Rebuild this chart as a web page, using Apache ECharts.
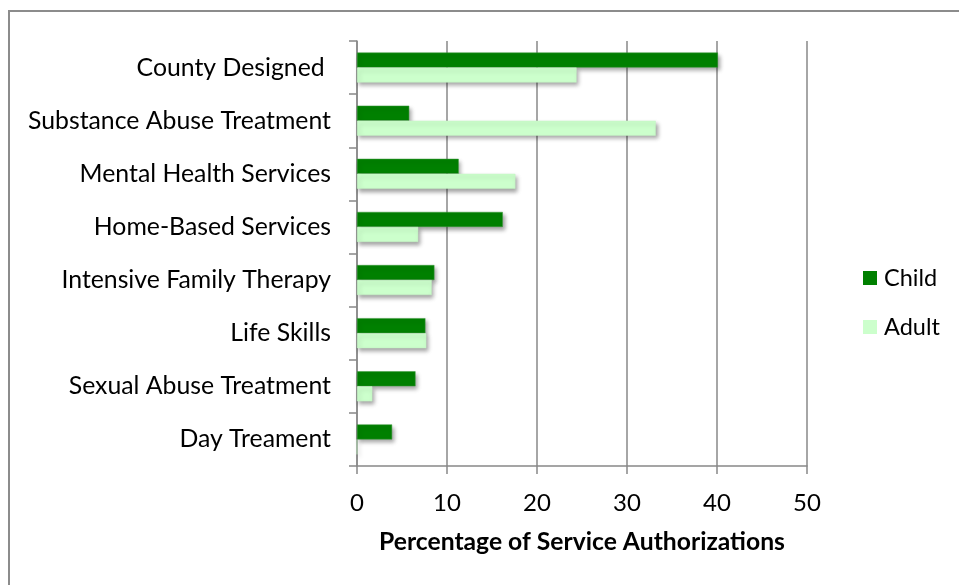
<!DOCTYPE html>
<html>
<head>
<meta charset="utf-8">
<script src="https://cdn.jsdelivr.net/npm/echarts@6/dist/echarts.min.js"></script>
<style>
html,body{margin:0;padding:0;background:#fff;}
#chart{width:959px;height:585px;}
</style>
</head>
<body>
<div id="chart"></div>
<script>
var categories = ["County Designed ", "Substance Abuse Treatment", "Mental Health Services", "Home-Based Services", "Intensive Family Therapy", "Life Skills", "Sexual Abuse Treatment", "Day Treament"];
var childValues = [40.1, 5.8, 11.3, 16.2, 8.6, 7.6, 6.5, 3.9];
var adultValues = [24.4, 33.2, 17.6, 6.8, 8.3, 7.7, 1.7, 0];
var xTicks = {min: 0, max: 50, interval: 10};
var seriesNames = ["Child", "Adult"];
var xTitle = "Percentage of Service Authorizations";

var FONT = "Lato";
var chart = echarts.init(document.getElementById('chart'), null, {renderer: 'canvas'});
var shadow = {shadowBlur: 4, shadowOffsetX: 2, shadowOffsetY: 3, shadowColor: 'rgba(0,0,0,0.35)'};
chart.setOption({
  animation: false,
  backgroundColor: '#fff',
  graphic: [{
    type: 'rect', shape: {x: 9, y: 11, width: 1000, height: 1000},
    style: {fill: 'none', stroke: '#8c8c8c', lineWidth: 2}, silent: true
  }],
  grid: {left: 357, right: 152, top: 41, bottom: 119, containLabel: false},
  legend: {
    orient: 'vertical', left: 858, top: 261, itemWidth: 14, itemHeight: 14, itemGap: 25,
    icon: 'rect',
    itemStyle: {borderWidth: 0, shadowBlur: 0, shadowOffsetX: 0, shadowOffsetY: 0},
    textStyle: {fontFamily: FONT, fontSize: 23.5, color: '#000', padding: [0, 0, 0, 2]},
    data: seriesNames
  },
  xAxis: {
    type: 'value', min: xTicks.min, max: xTicks.max, interval: xTicks.interval,
    axisLine: {show: true, lineStyle: {color: '#888', width: 1.5}},
    axisTick: {show: true, length: 8, lineStyle: {color: '#888', width: 1.5}},
    splitLine: {show: true, lineStyle: {color: '#888', width: 1.5}},
    axisLabel: {fontFamily: FONT, fontSize: 24, color: '#000', margin: 25},
    name: xTitle, nameLocation: 'middle', nameGap: 64,
    nameTextStyle: {fontFamily: FONT, fontSize: 24.7, fontWeight: 'bold', color: '#000'}
  },
  yAxis: {
    type: 'category', data: categories, inverse: true,
    axisLine: {show: true, lineStyle: {color: '#888', width: 1.5}},
    axisTick: {show: true, length: 8, lineStyle: {color: '#888', width: 1.5}},
    axisLabel: {fontFamily: FONT, fontSize: 24.8, color: '#000', margin: 26},
    splitLine: {show: false}
  },
  series: [{
    name: seriesNames[0], type: 'bar', data: childValues, barWidth: 15, barGap: '0%',
    itemStyle: Object.assign({color: '#008000', borderColor: '#3a9a3a', borderWidth: 0.5}, shadow)
  }, {
    name: seriesNames[1], type: 'bar', data: adultValues, barWidth: 15, barGap: '0%',
    itemStyle: Object.assign({color: '#ccffcc', borderColor: '#c4f4c4', borderWidth: 0.5}, shadow)
  }]
});
</script>
</body>
</html>
